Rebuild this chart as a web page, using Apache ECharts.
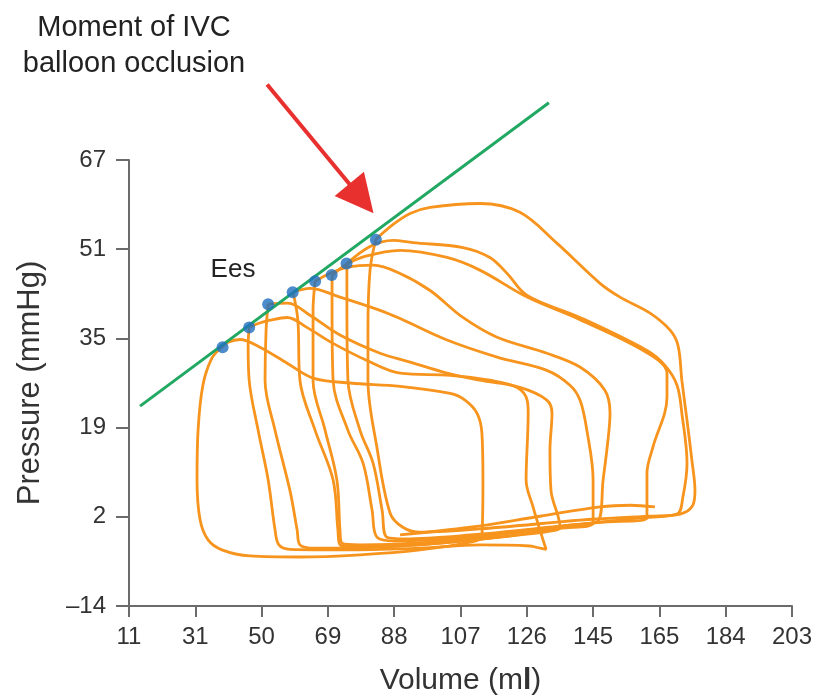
<!DOCTYPE html>
<html><head><meta charset="utf-8">
<script src="https://cdn.jsdelivr.net/npm/echarts@6/dist/echarts.min.js"></script>
<style>html,body{margin:0;padding:0;background:#fff}#c{width:821px;height:698px}</style>
</head><body><div id="c"></div>
<script>
// Axis ticks (labels as printed)
const xTickLabels = ['11','31','50','69','88','107','126','145','165','184','203'];
const yTickLabels = ['\u201314','2','19','35','51','67'];
const xMin = 11, xMax = 203, yMin = -14, yMax = 67;

// Pressure-volume loops [volume ml, pressure mmHg]
const loop1 = [[37.9,33.0],[35.0,31.0],[32.4,26.1],[31.0,17.9],[30.7,8.9],[31.6,1.6],[33.9,-2.0],[37.9,-3.8],[46.0,-4.9],[60.5,-5.1],[77.9,-4.7],[95.3,-3.8],[109.8,-2.4],[113.2,-1.3],[113.5,8.9],[113.2,17.4],[111.8,21.0],[108.3,23.4],[104.0,24.6],[89.5,25.9],[75.0,26.5],[64.3,27.4],[56.8,30.1],[48.9,33.0],[43.1,34.4],[39.7,33.9],[37.9,33.0]];
const loop2 = [[45.8,36.6],[45.5,33.3],[45.8,27.0],[48.4,17.9],[51.3,8.9],[53.3,-0.2],[54.4,-2.9],[57.6,-3.7],[75.0,-3.8],[95.3,-3.5],[112.6,-2.9],[127.1,-3.1],[130.0,-3.5],[131.8,-3.7],[130.9,-2.0],[128.0,4.0],[126.0,8.9],[126.6,21.0],[126.3,23.4],[123.4,25.7],[115.5,27.0],[104.0,27.9],[89.5,28.3],[79.9,30.6],[70.1,33.7],[62.5,36.6],[56.8,38.4],[51.8,37.9],[48.4,37.3],[45.8,36.6]];
const loop3 = [[51.3,40.8],[50.7,36.1],[50.4,27.0],[53.3,17.9],[57.6,7.0],[59.7,-0.2],[60.5,-2.9],[64.9,-3.5],[83.7,-3.3],[104.0,-2.4],[124.2,-1.1],[134.7,-0.2],[135.8,0.3],[133.2,7.0],[132.9,14.3],[133.5,21.0],[132.0,23.4],[124.2,25.7],[112.6,27.0],[103.1,28.3],[92.4,30.3],[83.7,31.9],[72.1,35.2],[63.4,38.8],[57.0,41.0],[51.3,40.8]];
const loop4 = [[58.5,43.0],[59.9,37.9],[60.5,27.0],[64.9,17.9],[70.1,8.9],[71.5,-0.2],[72.1,-2.9],[76.4,-3.3],[95.3,-2.9],[118.4,-1.5],[135.8,0.1],[145.4,1.1],[145.4,8.9],[143.6,17.9],[141.6,23.4],[138.7,26.1],[132.0,28.8],[117.6,31.2],[103.1,34.3],[89.5,38.2],[83.7,39.7],[72.1,42.1],[63.4,43.7],[58.5,43.0]];
const loop5 = [[64.9,45.0],[64.3,39.7],[64.3,27.0],[67.8,17.9],[71.2,8.9],[72.1,-0.2],[72.7,-2.6],[77.9,-2.9],[98.2,-2.4],[121.3,-0.8],[138.7,0.7],[146.8,1.4],[148.3,8.9],[149.7,16.1],[150.3,21.0],[148.8,25.2],[141.6,29.4],[132.0,31.9],[117.6,34.8],[107.7,38.4],[98.2,43.3],[89.5,46.4],[81.7,47.9],[74.1,47.5],[69.2,46.4],[64.9,45.0]];
const loop6 = [[69.8,46.0],[69.8,39.7],[70.1,27.0],[74.4,17.9],[78.8,11.9],[81.4,3.4],[82.8,-1.5],[88.0,-2.2],[104.0,-1.7],[127.1,-0.2],[147.4,1.2],[161.0,2.0],[161.0,10.1],[162.7,14.8],[166.8,23.9],[166.8,28.3],[161.0,32.0],[141.6,38.0],[126.3,42.1],[112.6,47.0],[103.1,49.3],[89.5,50.6],[79.3,49.5],[73.6,47.9],[69.8,46.0]];
const loop7 = [[74.1,48.2],[74.1,41.5],[74.4,27.0],[77.9,17.9],[81.7,11.9],[84.3,3.4],[85.7,-1.5],[90.9,-1.8],[109.8,-1.1],[135.8,0.5],[159.0,2.0],[169.7,2.7],[171.4,5.8],[172.6,11.9],[171.1,21.0],[169.7,26.1],[166.2,29.7],[161.0,32.4],[141.6,38.4],[126.3,42.4],[120.5,46.4],[115.5,49.3],[107.7,51.1],[93.2,52.0],[87.5,52.4],[80.8,51.3],[74.1,48.2]];
const loop8 = [[82.5,52.6],[80.8,47.0],[80.2,36.1],[80.2,27.0],[82.8,14.8],[86.6,2.9],[90.3,0.3],[95.3,-0.6],[118.4,0.3],[141.6,1.6],[161.9,2.3],[170.6,2.7],[174.3,4.3],[174.9,7.0],[174.0,12.5],[172.6,19.7],[171.1,27.0],[170.0,33.3],[167.7,36.1],[161.9,39.2],[153.2,42.1],[147.4,44.6],[134.9,51.9],[124.2,57.5],[112.6,59.1],[98.2,58.4],[92.4,57.3],[87.5,55.3],[82.5,52.6]];
const tail = [[89.5,-1.1],[109.8,0.3],[130.0,2.3],[147.4,4.0],[156.1,4.3],[163.3,4.0]];
const loops = [loop1, loop2, loop3, loop4, loop5, loop6, loop7, loop8, tail];

// End-systolic points and ESPVR line (Ees)
const esPoints = [[38.1,33.0],[45.8,36.6],[51.3,40.8],[58.4,43.0],[64.9,45.0],[69.7,46.1],[74.0,48.2],[82.5,52.5]];
const espvr = [[14.2,22.3],[132.6,77.4]];
// Annotation arrow (start, end) in data units
const arrowLine = [[51.0,80.7],[78.3,60.0]];

const xTickPos = xTickLabels.map((_, i) => xMin + i * (xMax - xMin) / (xTickLabels.length - 1));
const yTickPos = yTickLabels.map((_, i) => yMin + i * (yMax - yMin) / (yTickLabels.length - 1));
function labelFor(v, pos, labels) {
  let best = 0;
  pos.forEach((p, i) => { if (Math.abs(p - v) < Math.abs(pos[best] - v)) best = i; });
  return labels[best];
}

const FONT = "'Liberation Sans', Arial, sans-serif";
const AX = '#6b6b6b';
const chart = echarts.init(document.getElementById('c'), null, {renderer: 'canvas'});
const series = loops.map(d => ({
  type: 'line', data: d, smooth: 0.35, showSymbol: false, clip: false, silent: true,
  lineStyle: {color: '#f7941d', width: 2.8}, z: 2
}));
series.push({
  type: 'line', data: espvr, showSymbol: false, clip: false, silent: true,
  lineStyle: {color: '#21a862', width: 3}, z: 3
});
series.push({
  type: 'scatter', data: esPoints, symbolSize: 12, itemStyle: {color: '#1f6fc0'}, z: 4, silent: true
});
series.push({
  type: 'lines', coordinateSystem: 'cartesian2d', clip: false, silent: true,
  data: [{coords: arrowLine}],
  symbol: ['none', 'triangle'], symbolSize: [1, 38],
  lineStyle: {color: '#e8302f', width: 4, opacity: 1, curveness: 0}, z: 5
});

chart.setOption({
  animation: false,
  backgroundColor: '#fff',
  textStyle: {fontFamily: FONT},
  grid: {left: 129, right: 29, top: 160, bottom: 92, containLabel: false, outerBoundsMode: 'none'},
  xAxis: {
    type: 'value', min: xMin, max: xMax,
    axisLine: {show: true, onZero: false, lineStyle: {color: AX, width: 2}},
    axisTick: {show: true, customValues: xTickPos, length: 11, lineStyle: {color: AX, width: 2}},
    axisLabel: {customValues: xTickPos, formatter: v => labelFor(v, xTickPos, xTickLabels),
      fontSize: 24, color: '#333', margin: 19, fontFamily: FONT},
    splitLine: {show: false},
    name: 'Volume (m{b|l})', nameLocation: 'middle', nameGap: 60,
    nameTextStyle: {fontSize: 30, color: '#333', fontFamily: FONT,
      rich: {b: {fontSize: 30, fontWeight: 'bold', color: '#333', fontFamily: FONT}}}
  },
  yAxis: {
    type: 'value', min: yMin, max: yMax,
    axisLine: {show: true, onZero: false, lineStyle: {color: AX, width: 2}},
    axisTick: {show: true, customValues: yTickPos, length: 13, lineStyle: {color: AX, width: 2}},
    axisLabel: {customValues: yTickPos, formatter: v => labelFor(v, yTickPos, yTickLabels),
      fontSize: 24, color: '#333', margin: 23, fontFamily: FONT},
    splitLine: {show: false},
    name: 'Pressure (mmHg)', nameLocation: 'middle', nameGap: 83, nameRotate: 90,
    nameTextStyle: {fontSize: 31, color: '#333', fontFamily: FONT}
  },
  graphic: [
    {type: 'text', x: 134, y: 10, silent: true,
      style: {text: 'Moment of IVC\nballoon occlusion', textAlign: 'center', fill: '#222',
        font: "29px 'Liberation Sans', Arial, sans-serif", lineHeight: 36}},
    {type: 'text', x: 233, y: 257, silent: true,
      style: {text: 'Ees', textAlign: 'center', fill: '#222',
        font: "26px 'Liberation Sans', Arial, sans-serif"}}
  ],
  series: series
});
</script></body></html>
